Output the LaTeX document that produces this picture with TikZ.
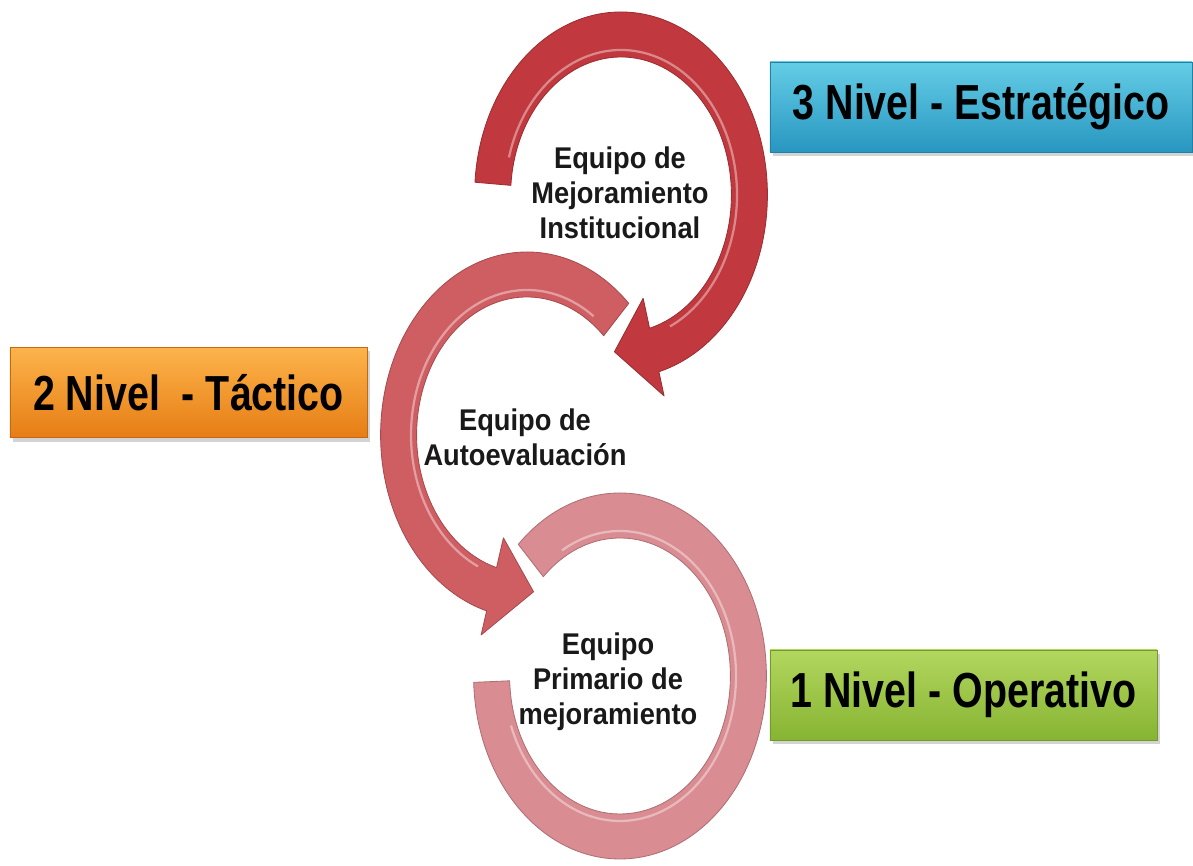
\documentclass[tikz,border=0pt]{standalone}
\usepackage{fontspec}
\setmainfont{Liberation Sans}
\newfontfamily\levelfont{Liberation Sans}[FakeStretch=0.8]
\newfontfamily\teamfont{Liberation Sans}[FakeStretch=0.91]
\usetikzlibrary{shadows}

\definecolor{ringone}{RGB}{193,57,62}
\definecolor{ringtwo}{RGB}{207,94,99}
\definecolor{ringthree}{RGB}{217,140,145}
\definecolor{bluetop}{RGB}{100,205,230}
\definecolor{bluebot}{RGB}{40,150,192}
\definecolor{orangetop}{RGB}{252,180,75}
\definecolor{orangebot}{RGB}{230,125,20}
\definecolor{greentop}{RGB}{178,215,95}
\definecolor{greenbot}{RGB}{135,180,50}

\tikzset{
  levelbox/.style={rectangle, minimum height=2.25cm, inner sep=0pt,
    font=\levelfont\bfseries\fontsize{35}{42}\selectfont, text=black,
    drop shadow={opacity=0.35, shadow xshift=0.08cm, shadow yshift=-0.1cm}},
  teamlabel/.style={align=center, text=black!90,
    font=\teamfont\bfseries\fontsize{21.3}{24.9}\selectfont},
  ring/.style={line width=0.6pt, line join=round},
  gloss/.style={white, opacity=0.4, line width=1.6pt},
}

\begin{document}
\begin{tikzpicture}[x=0.025cm, y=0.025cm]
  \useasboundingbox (0,0) rectangle (1193,866);

  % circular arrows (drawn as circles squeezed in x)
  \begin{scope}[shift={(620,190)}, xscale=0.8]
    \filldraw[ring, fill=ringthree, draw=ringthree!80!black]
      (134:183) arc[start angle=134, end angle=-178, radius=183]
      -- (-178:138) arc[start angle=-178, end angle=134, radius=138] -- cycle;
    \draw[gloss] (120:145) arc[start angle=120, end angle=-160, radius=145];
  \end{scope}
  \begin{scope}[shift={(527,431)}, xscale=0.8]
    \filldraw[ring, fill=ringtwo, draw=ringtwo!80!black]
      (46:183) arc[start angle=46, end angle=254, radius=183]
      -- (254:208) -- (273:157) -- (254:107)
      -- (254:138) arc[start angle=254, end angle=46, radius=138] -- cycle;
    \draw[gloss] (55:145) arc[start angle=55, end angle=245, radius=145];
  \end{scope}
  \begin{scope}[shift={(621,671)}, xscale=0.8]
    \filldraw[ring, fill=ringone, draw=ringone!80!black]
      (176:183) arc[start angle=176, end angle=-75, radius=183]
      -- (-75:208) -- (-93:157) -- (-75:107)
      -- (-75:138) arc[start angle=-75, end angle=176, radius=138] -- cycle;
    \draw[gloss] (165:145) arc[start angle=165, end angle=-65, radius=145];
  \end{scope}

  % team names inside the rings
  \node[teamlabel] (emi) at (620,673) {Equipo de\\Mejoramiento\\Institucional};
  \node[teamlabel] (eae) at (525,429) {Equipo de\\Autoevaluación};
  \node[teamlabel] (epm) at (608,184) {Equipo\\Primario de\\mejoramiento};

  % levels
  \node[levelbox, minimum width=10.55cm, top color=bluetop, bottom color=bluebot,
    draw=bluebot!85!black] (lvlthree) at (981,759) {3 Nivel - Estratégico};
  \node[levelbox, minimum width=8.925cm, top color=orangetop, bottom color=orangebot,
    draw=orangebot!85!black] (lvltwo) at (188.5,473.5) {2 Nivel\ \ - Táctico};
  \node[levelbox, minimum width=9.675cm, top color=greentop, bottom color=greenbot,
    draw=greenbot!85!black] (lvlone) at (963.5,171) {1 Nivel - Operativo};
\end{tikzpicture}
\end{document}
